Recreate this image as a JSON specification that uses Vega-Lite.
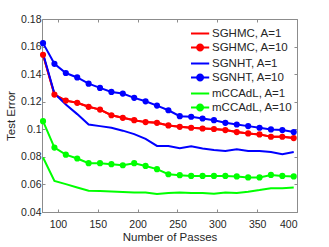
{
  "$schema": "https://vega.github.io/schema/vega-lite/v6.json",
  "width": 255,
  "height": 193,
  "autosize": {"type": "none"},
  "padding": {"left": 42, "top": 19, "right": 32, "bottom": 35},
  "background": "white",
  "config": {
    "font": "Liberation Sans",
    "view": {"stroke": "#8c8c8c", "strokeWidth": 1},
    "axis": {"grid": false, "domainColor": "#8c8c8c", "tickColor": "#8c8c8c", "labelColor": "#262626", "titleColor": "#262626", "labelFontSize": 10.5, "titleFontSize": 11.5, "titleFontWeight": "normal", "tickSize": -3, "labelPadding": 4}
  },
  "data": {"values": [
    {"s":"SGHMC, A=10","x":81.3,"y":0.154},{"s":"SGHMC, A=10","x":95.6,"y":0.1252},{"s":"SGHMC, A=10","x":109.9,"y":0.1208},{"s":"SGHMC, A=10","x":124.2,"y":0.1192},{"s":"SGHMC, A=10","x":138.5,"y":0.1163},{"s":"SGHMC, A=10","x":152.8,"y":0.1143},{"s":"SGHMC, A=10","x":167.1,"y":0.1102},{"s":"SGHMC, A=10","x":181.4,"y":0.1083},{"s":"SGHMC, A=10","x":195.7,"y":0.1066},{"s":"SGHMC, A=10","x":210,"y":0.1052},{"s":"SGHMC, A=10","x":224.3,"y":0.1047},{"s":"SGHMC, A=10","x":238.6,"y":0.1028},{"s":"SGHMC, A=10","x":252.9,"y":0.1018},{"s":"SGHMC, A=10","x":267.2,"y":0.1011},{"s":"SGHMC, A=10","x":281.5,"y":0.1006},{"s":"SGHMC, A=10","x":295.8,"y":0.1002},{"s":"SGHMC, A=10","x":310.1,"y":0.0994},{"s":"SGHMC, A=10","x":324.4,"y":0.098},{"s":"SGHMC, A=10","x":338.7,"y":0.097},{"s":"SGHMC, A=10","x":353,"y":0.0963},{"s":"SGHMC, A=10","x":367.3,"y":0.0946},{"s":"SGHMC, A=10","x":381.6,"y":0.0946},{"s":"SGHMC, A=10","x":395.9,"y":0.0936},
    {"s":"SGHMC, A=1","x":81.3,"y":0.154},{"s":"SGHMC, A=1","x":95.6,"y":0.1252},{"s":"SGHMC, A=1","x":109.9,"y":0.1208},{"s":"SGHMC, A=1","x":124.2,"y":0.1192},{"s":"SGHMC, A=1","x":138.5,"y":0.1163},{"s":"SGHMC, A=1","x":152.8,"y":0.1143},{"s":"SGHMC, A=1","x":167.1,"y":0.1102},{"s":"SGHMC, A=1","x":181.4,"y":0.1083},{"s":"SGHMC, A=1","x":195.7,"y":0.1066},{"s":"SGHMC, A=1","x":210,"y":0.1052},{"s":"SGHMC, A=1","x":224.3,"y":0.1047},{"s":"SGHMC, A=1","x":238.6,"y":0.1028},{"s":"SGHMC, A=1","x":252.9,"y":0.1018},{"s":"SGHMC, A=1","x":267.2,"y":0.1011},{"s":"SGHMC, A=1","x":281.5,"y":0.1006},{"s":"SGHMC, A=1","x":295.8,"y":0.1002},{"s":"SGHMC, A=1","x":310.1,"y":0.0994},{"s":"SGHMC, A=1","x":324.4,"y":0.098},{"s":"SGHMC, A=1","x":338.7,"y":0.097},{"s":"SGHMC, A=1","x":353,"y":0.0963},{"s":"SGHMC, A=1","x":367.3,"y":0.0946},{"s":"SGHMC, A=1","x":381.6,"y":0.0946},{"s":"SGHMC, A=1","x":395.9,"y":0.0936},
    {"s":"SGNHT, A=1","x":81.3,"y":0.155},{"s":"SGNHT, A=1","x":95.6,"y":0.126},{"s":"SGNHT, A=1","x":109.9,"y":0.118},{"s":"SGNHT, A=1","x":124.2,"y":0.111},{"s":"SGNHT, A=1","x":138.5,"y":0.1035},{"s":"SGNHT, A=1","x":152.8,"y":0.1023},{"s":"SGNHT, A=1","x":167.1,"y":0.1011},{"s":"SGNHT, A=1","x":181.4,"y":0.099},{"s":"SGNHT, A=1","x":195.7,"y":0.0965},{"s":"SGNHT, A=1","x":210,"y":0.093},{"s":"SGNHT, A=1","x":224.3,"y":0.0879},{"s":"SGNHT, A=1","x":238.6,"y":0.0879},{"s":"SGNHT, A=1","x":252.9,"y":0.0862},{"s":"SGNHT, A=1","x":267.2,"y":0.0876},{"s":"SGNHT, A=1","x":281.5,"y":0.086},{"s":"SGNHT, A=1","x":295.8,"y":0.085},{"s":"SGNHT, A=1","x":310.1,"y":0.0843},{"s":"SGNHT, A=1","x":324.4,"y":0.0855},{"s":"SGNHT, A=1","x":338.7,"y":0.0843},{"s":"SGNHT, A=1","x":353,"y":0.0843},{"s":"SGNHT, A=1","x":367.3,"y":0.0835},{"s":"SGNHT, A=1","x":381.6,"y":0.0819},{"s":"SGNHT, A=1","x":395.9,"y":0.0835},
    {"s":"SGNHT, A=10","x":81.3,"y":0.1625},{"s":"SGNHT, A=10","x":95.6,"y":0.1475},{"s":"SGNHT, A=10","x":109.9,"y":0.1408},{"s":"SGNHT, A=10","x":124.2,"y":0.1376},{"s":"SGNHT, A=10","x":138.5,"y":0.1331},{"s":"SGNHT, A=10","x":152.8,"y":0.130},{"s":"SGNHT, A=10","x":167.1,"y":0.1271},{"s":"SGNHT, A=10","x":181.4,"y":0.1259},{"s":"SGNHT, A=10","x":195.7,"y":0.1228},{"s":"SGNHT, A=10","x":210,"y":0.1203},{"s":"SGNHT, A=10","x":224.3,"y":0.1172},{"s":"SGNHT, A=10","x":238.6,"y":0.1138},{"s":"SGNHT, A=10","x":252.9,"y":0.1095},{"s":"SGNHT, A=10","x":267.2,"y":0.1091},{"s":"SGNHT, A=10","x":281.5,"y":0.1078},{"s":"SGNHT, A=10","x":295.8,"y":0.1066},{"s":"SGNHT, A=10","x":310.1,"y":0.1047},{"s":"SGNHT, A=10","x":324.4,"y":0.1035},{"s":"SGNHT, A=10","x":338.7,"y":0.1023},{"s":"SGNHT, A=10","x":353,"y":0.1011},{"s":"SGNHT, A=10","x":367.3,"y":0.0999},{"s":"SGNHT, A=10","x":381.6,"y":0.0994},{"s":"SGNHT, A=10","x":395.9,"y":0.098},
    {"s":"mCCAdL, A=1","x":81.3,"y":0.0795},{"s":"mCCAdL, A=1","x":95.6,"y":0.0626},{"s":"mCCAdL, A=1","x":109.9,"y":0.0602},{"s":"mCCAdL, A=1","x":124.2,"y":0.0578},{"s":"mCCAdL, A=1","x":138.5,"y":0.0554},{"s":"mCCAdL, A=1","x":152.8,"y":0.0552},{"s":"mCCAdL, A=1","x":167.1,"y":0.0548},{"s":"mCCAdL, A=1","x":181.4,"y":0.0545},{"s":"mCCAdL, A=1","x":195.7,"y":0.0542},{"s":"mCCAdL, A=1","x":210,"y":0.0542},{"s":"mCCAdL, A=1","x":224.3,"y":0.053},{"s":"mCCAdL, A=1","x":238.6,"y":0.0537},{"s":"mCCAdL, A=1","x":252.9,"y":0.0542},{"s":"mCCAdL, A=1","x":267.2,"y":0.0537},{"s":"mCCAdL, A=1","x":281.5,"y":0.0537},{"s":"mCCAdL, A=1","x":295.8,"y":0.0532},{"s":"mCCAdL, A=1","x":310.1,"y":0.0542},{"s":"mCCAdL, A=1","x":324.4,"y":0.0537},{"s":"mCCAdL, A=1","x":338.7,"y":0.0547},{"s":"mCCAdL, A=1","x":353,"y":0.0559},{"s":"mCCAdL, A=1","x":367.3,"y":0.0573},{"s":"mCCAdL, A=1","x":381.6,"y":0.0573},{"s":"mCCAdL, A=1","x":395.9,"y":0.0578},
    {"s":"mCCAdL, A=10","x":81.3,"y":0.1059},{"s":"mCCAdL, A=10","x":95.6,"y":0.0867},{"s":"mCCAdL, A=10","x":109.9,"y":0.0816},{"s":"mCCAdL, A=10","x":124.2,"y":0.0788},{"s":"mCCAdL, A=10","x":138.5,"y":0.0754},{"s":"mCCAdL, A=10","x":152.8,"y":0.0754},{"s":"mCCAdL, A=10","x":167.1,"y":0.0747},{"s":"mCCAdL, A=10","x":181.4,"y":0.0739},{"s":"mCCAdL, A=10","x":195.7,"y":0.0754},{"s":"mCCAdL, A=10","x":210,"y":0.0734},{"s":"mCCAdL, A=10","x":224.3,"y":0.0711},{"s":"mCCAdL, A=10","x":238.6,"y":0.0674},{"s":"mCCAdL, A=10","x":252.9,"y":0.0667},{"s":"mCCAdL, A=10","x":267.2,"y":0.0662},{"s":"mCCAdL, A=10","x":281.5,"y":0.0662},{"s":"mCCAdL, A=10","x":295.8,"y":0.0662},{"s":"mCCAdL, A=10","x":310.1,"y":0.0662},{"s":"mCCAdL, A=10","x":324.4,"y":0.0658},{"s":"mCCAdL, A=10","x":338.7,"y":0.0651},{"s":"mCCAdL, A=10","x":353,"y":0.0651},{"s":"mCCAdL, A=10","x":367.3,"y":0.0669},{"s":"mCCAdL, A=10","x":381.6,"y":0.0662},{"s":"mCCAdL, A=10","x":395.9,"y":0.0658}
  ]},
  "layer": [
    {
      "mark": {"type": "line", "strokeWidth": 2},
      "encoding": {
        "x": {"field": "x", "type": "quantitative", "scale": {"domain": [80, 400], "nice": false, "zero": false}, "axis": {"title": "Number of Passes", "values": [100,150,200,250,300,350,400], "orient": "bottom", "labelPadding": 10, "titlePadding": 2}},
        "y": {"field": "y", "type": "quantitative", "scale": {"domain": [0.04, 0.18], "nice": false, "zero": false}, "axis": {"title": "Test Error", "values": [0.04,0.06,0.08,0.1,0.12,0.14,0.16,0.18], "format": "~g", "orient": "left", "titlePadding": 4}},
        "color": {"field": "s", "type": "nominal",
          "scale": {"domain": ["SGHMC, A=1","SGHMC, A=10","SGNHT, A=1","SGNHT, A=10","mCCAdL, A=1","mCCAdL, A=10"], "range": ["#ff0000","#ff0000","#0000ff","#0000ff","#00ff00","#00ff00"]},
          "legend": {"title": null, "orient": "none", "legendX": 150.6, "legendY": 7, "padding": 0, "labelFontSize": 11.5, "labelColor": "#262626", "symbolSize": 169, "symbolStrokeWidth": 2, "labelOffset": 4.4, "rowPadding": 1,
            "encode": {"symbols": {"update": {
              "shape": {"signal": "indexof(datum.value, 'A=10') >= 0 ? 'M-1.4,0H1.4M-0.46,0A0.46,0.46 0 1,0 0.46,0A0.46,0.46 0 1,0 -0.46,0' : 'M-1.4,0H1.4'"},
              "fill": {"scale": "color", "field": "value"},
              "stroke": {"scale": "color", "field": "value"}
            }}}}},
        "detail": {"field": "s"}
      }
    },
    {
      "transform": [{"filter": {"field": "s", "oneOf": ["SGHMC, A=10", "SGNHT, A=10", "mCCAdL, A=10"]}}],
      "mark": {"type": "point", "filled": true, "size": 38, "opacity": 1},
      "encoding": {
        "x": {"field": "x", "type": "quantitative", "axis": {"orient": "top", "labels": false, "title": null, "values": [100,150,200,250,300,350,400], "domain": false}},
        "y": {"field": "y", "type": "quantitative", "axis": {"orient": "right", "labels": false, "title": null, "values": [0.04,0.06,0.08,0.1,0.12,0.14,0.16,0.18], "domain": false}},
        "color": {"field": "s", "type": "nominal", "legend": null}
      }
    }
  ]
}
